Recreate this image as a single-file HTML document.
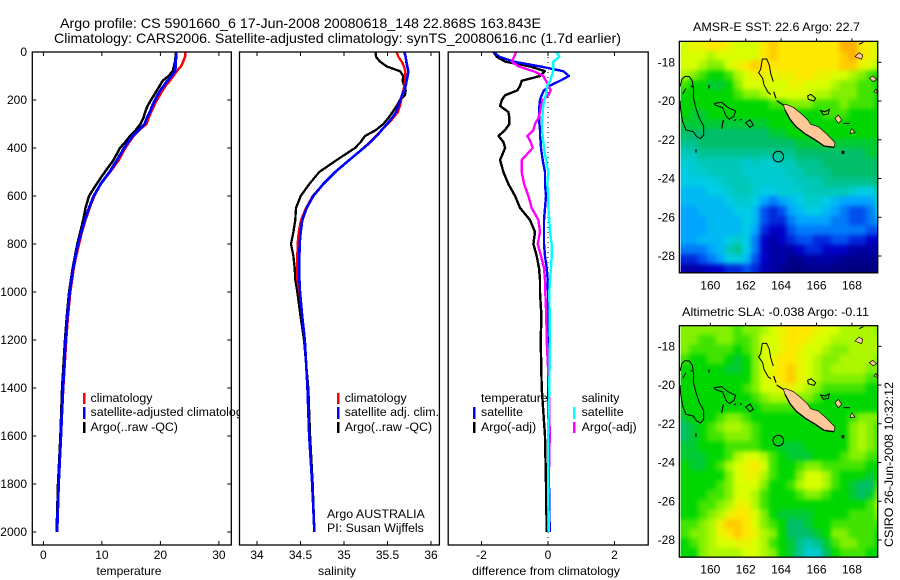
<!DOCTYPE html>
<html lang="en">
<head>
<meta charset="utf-8">
<title>Argo profile chart</title>
<style>
html,body{margin:0;padding:0;background:#fff;width:900px;height:580px;overflow:hidden}
svg{display:block}
text{font-family:"Liberation Sans",sans-serif;font-size:12px;fill:#000}
g.legend text{font-size:12.4px}
</style>
</head>
<body>
<svg id="chart" xmlns="http://www.w3.org/2000/svg" width="900" height="580" viewBox="0 0 900 580">
  <defs>
    <clipPath id="clip-map-top"><rect x="680.6" y="42" width="196.9" height="231"/></clipPath>
    <clipPath id="clip-map-bottom"><rect x="680.6" y="326.3" width="196.9" height="231"/></clipPath>
    <filter id="cell-soften" x="-10%" y="-10%" width="120%" height="120%" color-interpolation-filters="sRGB">
      <feGaussianBlur stdDeviation="2.4"/>
    </filter>
    <g id="coast">
      <g fill="none" stroke="#000" stroke-width="3">
        <path d="M60,230 L66,207 L75,199 L88,200 L97,213 L101,240 L100,262 L108,295 L118,325 L131,348 L131,375 L122,386 L110,380 L100,365 L78,360 L68,335 L62,300 L60,272"/>
        <path d="M68,252 L78,235 M92,228 L100,232"/>
        <path d="M163,280 L185,277 L205,293 L227,303 L222,318 L208,328 L198,318 L188,293 L165,285 Z"/>
        <path d="M257,338 L270,329 L280,345 L270,352 Z"/>
        <path d="M307,147 L320,147 L328,165 L332,190 L340,215"/>
        <path d="M307,147 L302,178 L296,188 L308,205 L312,225 L325,248 L333,253"/>
        <path d="M443,258 L453,253 L467,265 L462,273 L445,268 Z"/>
        <path d="M482,302 L495,305 L508,298 L505,312 L490,315 Z"/>
        <path d="M597,103 L610,97 M550,340 L570,340"/>
      </g>
      <g fill="none" stroke="#000" stroke-width="3.5">
        <path d="M341,245 L348,265 M185,356 L190,330 M222,332 L228,328 M240,330 L245,328 M147,225 L147,235 M108,417 L108,428 M350,272 L370,285"/>
        <path d="M545,427 L553,427" stroke-width="9"/>
      </g>
      <path d="M370,284 L378,283 L400,292 L420,308 L442,328 L452,343 L475,350 L500,372 L525,398 L522,412 L492,408 L466,390 L436,372 L408,350 L390,328 L375,300 Z" fill="#ffc896" stroke="#000" stroke-width="2"/>
      <path d="M375,300 L390,328 L408,350 L436,372 L466,390 L492,408 L522,412" fill="none" stroke="#000" stroke-width="4"/>
      <g fill="#ffc896" stroke="#000" stroke-width="2">
        <path d="M535,315 L545,330 L535,340 L525,325 Z"/>
        <path d="M597,128 L608,135 L605,148 L585,140 Z"/>
        <path d="M575,355 L585,368 L570,370 Z"/>
        <path d="M638,198 L650,208 L640,215 L628,205 Z"/>
        <path d="M648,237 L653,250 L642,245 Z"/>
      </g>
    </g>
  </defs>

  <g id="panel-temperature"></g>
  <g class="legend">
    <rect x="83" y="393" width="2.5" height="11" fill="#f00"/>
    <text x="90.5" y="402">climatology</text>
    <rect x="83" y="407" width="2.5" height="12" fill="#00f"/>
    <text x="90.5" y="416">satellite-adjusted climatology</text>
    <rect x="83" y="422" width="2.5" height="11" fill="#000"/>
    <text x="90.5" y="431">Argo(..raw -QC)</text>
  </g>

  <g id="panel-salinity"></g>
  <g class="legend">
    <rect x="337" y="393" width="2.5" height="11" fill="#f00"/>
    <text x="344.7" y="402">climatology</text>
    <rect x="337" y="407" width="2.5" height="12" fill="#00f"/>
    <text x="344.7" y="416">satellite adj. clim.</text>
    <rect x="337" y="422" width="2.5" height="11" fill="#000"/>
    <text x="344.7" y="431">Argo(..raw -QC)</text>
    <text x="327" y="518">Argo AUSTRALIA</text>
    <text x="327" y="532">PI: Susan Wijffels</text>
  </g>

  <g id="panel-difference"></g>
  <g class="legend">
    <text x="481" y="402">temperature</text>
    <rect x="473" y="407" width="2.5" height="12" fill="#00f"/>
    <text x="481" y="416">satellite</text>
    <rect x="473" y="422" width="2.5" height="11" fill="#000"/>
    <text x="481" y="431">Argo(-adj)</text>
    <text x="581.6" y="402">salinity</text>
    <rect x="573" y="407" width="2.5" height="12" fill="#0ff"/>
    <text x="581.6" y="416">satellite</text>
    <rect x="573" y="422" width="2.5" height="11" fill="#f0f"/>
    <text x="581.6" y="431">Argo(-adj)</text>
  </g>

  <text x="60" y="28" style="font-size:14px" textLength="481" lengthAdjust="spacingAndGlyphs">Argo profile: CS 5901660_6 17-Jun-2008 20080618_148 22.868S 163.843E</text>
  <text x="54" y="43" style="font-size:14px" textLength="567" lengthAdjust="spacingAndGlyphs">Climatology: CARS2006. Satellite-adjusted climatology: synTS_20080616.nc (1.7d earlier)</text>

  <g id="map-top"></g>
  <g id="map-bottom"></g>

  <text x="693" y="31" textLength="167" lengthAdjust="spacingAndGlyphs">AMSR-E SST: 22.6 Argo: 22.7</text>
  <text x="682" y="316" textLength="187" lengthAdjust="spacingAndGlyphs">Altimetric SLA: -0.038 Argo: -0.11</text>
  <text transform="translate(893,547) rotate(-90)" textLength="165" lengthAdjust="spacingAndGlyphs">CSIRO 26-Jun-2008 10:32:12</text>
</svg>

<script>
// ---- profile data ----
const depths = [0,20,40,60,80,100,120,140,160,180,200,225,250,275,300,325,350,375,400,450,500,550,600,650,700,750,800,850,900,950,1000,1100,1200,1400,1600,1800,2000];
const depthTicks = [0,200,400,600,800,1000,1200,1400,1600,1800,2000];

const tempClimatology = [24.3,24.2,23.9,23.5,22.8,22.2,21.6,20.9,20.4,19.9,19.4,18.9,18.4,18.0,17.6,16.4,15.4,14.7,14.0,12.9,11.4,9.8,8.7,7.9,7.2,6.6,6.1,5.6,5.2,4.9,4.6,4.2,3.9,3.4,3.0,2.6,2.35];
const tempSatellite = [22.7,22.7,22.6,22.6,22.5,21.9,21.2,20.6,20.0,19.5,19.1,18.6,18.2,17.7,17.3,16.3,15.3,14.5,13.8,12.6,11.3,9.8,8.6,7.8,7.1,6.5,5.9,5.5,5.1,4.8,4.5,4.1,3.8,3.35,3.0,2.6,2.35];
const tempArgo = [22.6,22.6,22.5,22.3,22.1,21.4,20.4,19.9,19.4,18.9,18.4,17.8,17.4,17.1,16.6,15.8,14.8,14.0,13.1,12.0,10.5,9.1,7.8,7.2,6.8,6.3,5.8,5.4,5.0,4.7,4.4,4.0,3.7,3.2,2.9,2.5,2.25];
const tempTicks = [0,10,20,30];

const salClimatology = [35.605,35.625,35.663,35.69,35.705,35.705,35.701,35.693,35.682,35.667,35.659,35.644,35.62,35.567,35.502,35.433,35.368,35.299,35.222,35.061,34.90,34.762,34.64,34.563,34.506,34.479,34.467,34.463,34.463,34.463,34.487,34.52,34.55,34.58,34.6,34.635,34.66];
const salSatellite = [35.693,35.709,35.716,35.728,35.739,35.732,35.72,35.709,35.693,35.667,35.648,35.625,35.598,35.552,35.494,35.433,35.375,35.306,35.226,35.061,34.90,34.762,34.647,34.571,34.521,34.502,34.49,34.487,34.487,34.487,34.494,34.52,34.55,34.58,34.6,34.635,34.66];
const salArgo = [35.364,35.368,35.414,35.49,35.644,35.682,35.674,35.69,35.709,35.701,35.644,35.605,35.559,35.51,35.452,35.368,35.241,35.192,35.126,34.916,34.716,34.601,34.502,34.448,34.44,34.418,34.391,34.418,34.433,34.44,34.463,34.5,34.54,34.59,34.61,34.64,34.66];
const salTicks = [34,34.5,35,35.5,36];

const diffTempSatellite = [-1.64,-1.46,-1.04,-0.24,0.46,0.63,0.36,0.06,-0.12,-0.19,-0.24,-0.26,-0.26,-0.26,-0.26,-0.24,-0.24,-0.22,-0.21,-0.16,-0.09,-0.09,-0.06,-0.09,-0.12,-0.12,-0.12,-0.09,-0.04,-0.01,0,0,0.02,0,0,0.03,0.05];
const diffTempArgo = [-1.64,-1.54,-1.29,-0.54,-0.09,-0.24,-0.79,-0.84,-0.92,-1.29,-1.39,-1.44,-1.19,-1.16,-1.16,-1.29,-1.49,-1.34,-1.29,-1.44,-1.34,-1.19,-0.99,-0.84,-0.54,-0.39,-0.44,-0.34,-0.27,-0.24,-0.24,-0.2,-0.22,-0.19,-0.09,-0.06,-0.04];
const diffSalSatellite = [0.26,0.34,0.16,0.16,0.16,0.11,0.06,-0.02,-0.04,-0.07,-0.11,-0.14,-0.16,-0.17,-0.18,-0.18,-0.16,-0.14,-0.12,-0.06,0.01,-0.02,0.01,0.01,0.04,0.06,0.11,0.11,0.09,0.06,0.04,0.05,0.06,0.04,0,0,0.03];
const diffSalArgo = [-0.96,-1.02,-1.09,-0.89,-0.44,-0.14,-0.06,0.01,0.08,0.01,-0.16,-0.21,-0.24,-0.29,-0.39,-0.44,-0.62,-0.52,-0.46,-0.79,-0.79,-0.72,-0.59,-0.49,-0.29,-0.24,-0.31,-0.21,-0.12,-0.09,-0.08,-0.05,-0.04,0.03,0.05,0.02,0];
const diffTicks = [-2,0,2];

// ---- map data (colour-scale level 0..11, 0.5 degree cells, north to south) ----
const sstValues = [
[9,9.5,9.5,10,10,9.5,9,9,9,10,10.5,10,10,10,10,10,10,10,11,11,10,9.5,9],
[9,9,9,8.5,9,9,9,9,9,10,10.5,10,10,10,10,10,10,10,10.5,11,10,9.5,9],
[9,9,8.5,8,8,9,9.5,10,10.5,10,10,10,10,10,10,10,10,10,10.5,10.5,9.5,9,8.5],
[8.5,8,7.5,7,7,7.5,8.5,9,9.5,9.5,9.5,9.5,9.5,10,10,9.5,9.5,9,9,8.5,8,7.5,7],
[7.5,7,7,6.5,6.5,7,8,9,9,9,9,9,9.5,9.5,9,9,9,8.5,8,8,7.5,7.5,7],
[7,7,7,7,7,7,7.5,8,8,8.5,9,9,9,9,9,8.5,8.5,8,8,8,7.5,7.5,7],
[7,7,7,7,7,7,7,7,7,7,7.5,7.5,8,8,8,7.5,7.5,7.5,8,7.5,7.5,7.5,7],
[7,6.5,6.5,7,7,7,7,7,7,7,7,7,7,7,7,7,7.5,7.5,7.5,7,7,7,7],
[6.5,6.5,6.5,6.5,6.5,6.5,6.5,6.5,6.5,6.5,7,7,7,7,7,7,7,7,7,7,7,7,7],
[6,6,6,6,6,6,6,6,6,6,6.5,6.5,7,7,7,7,7,7,7,7,7,7,7],
[5.5,5.5,6,6,6,6,6,6,6,6,6,6,6,6.5,6.5,6.5,6.5,6.5,6.5,6.5,6.5,6.5,6.5],
[5,5,5.5,5.5,5.5,5.5,5.5,5.5,5.5,5.5,5.5,5.5,5.5,6,6,6,6,6,6,6,6,6.5,6.5],
[4.5,4.5,5,5,5,5,5,4.5,5,4.5,4.5,5,5,5.5,5.5,5.5,6,6,6,6,6,6,6],
[4,4.5,4.5,5,5,5,5,4.5,4.5,4.5,4.5,4.5,5,5,5.5,5.5,5.5,6,6,6,6,6,6],
[4,4,4,4,4.5,5,5,5,4.5,4.5,4.5,4.5,4.5,5,5,5,5.5,5.5,5.5,5.5,5.5,5.5,6],
[3.5,3.5,3.5,4,4,4.5,5,5,4.5,4,4,4.5,4.5,4.5,5,5,5,5,5,4.5,4,4,5],
[3.5,3.5,3.5,3.5,3.5,4,4.5,4.5,4,3,2.5,3,3.5,4,4.5,4.5,4,3.5,3,3,3,3,4.5],
[3,3,3.5,3.5,3.5,3.5,4,4,3.5,2,1.5,2,3,3.5,4,4,3.5,3,2.5,2,2,2.5,4],
[3,3,3,3.5,3.5,3.5,3.5,4,3.5,2,1.5,1.5,2.5,3,3,3,3,2.5,2.5,2,2,2.5,3],
[3,3,3,3.5,3.5,3.5,3.5,4,3,1.5,1,1,2,2.5,2.5,2.5,2.5,2.5,2.5,2.5,2.5,2,2],
[3,3,3.5,3.5,3.5,4,4.5,4,2.5,1,0.5,1,1.5,2,2,1.5,1.5,2,2,1.5,1.5,1,1],
[2.5,2.5,2.5,3,3.5,5,5.5,4,2.5,1,0.5,0.5,0.5,1,1.5,1.5,1,1,1,0.5,0.5,0.5,0.5],
[1.5,1.5,2,2.5,3,4,4,3.5,2,1,0.5,0.5,0.2,0.2,0.5,0.5,0.5,0.5,0.2,0.2,0.2,0.2,0.2],
[0.5,0.5,0.7,1,1,1.5,1.5,2,1.5,0.7,0.5,0.2,0,0,0.2,0.2,0.2,0,0,0,0,0,0]
];
const slaValues = [
[8,8,8,8,8,8,7.5,8,8,8.5,9,9.5,10,10,10,9.5,9,9,8.5,8.5,8.5,8.5,8],
[8,8,7.5,7.5,8,8,7.5,7.5,8,9,9,9.5,10,10,9.5,9,9,8.5,8.5,8.5,8.5,8.5,8.5],
[8,7.5,7.5,7.5,7.5,7.5,7,7.5,8,9,9,9.5,10,9.5,9,9,8.5,8,8,8.5,8.5,8.5,8.5],
[7.5,7,7,7.5,7.5,7,6.5,7,8,9,9.5,10,10,9.5,9,8.5,8,8,8.5,8.5,8.5,8.5,8],
[7,7,7,7,7,6.5,6.5,7,8,9,9.5,10,10.5,9.5,9,8.5,8,8.5,8.5,8.5,8.5,8,8],
[7,7,7,7,7,7,7,7,8,9,9.5,10,10.5,9.5,9,8.5,8,8,8,8,8,7.5,7.5],
[7,7,7,7,7,7,7,7.5,8,9,9,9.5,9.5,9,8.5,8,7.5,7.5,7.5,7.5,7.5,7,7],
[7,7,7,7,7,7,7,7,7.5,8,8.5,8.5,8.5,8,8,7.5,7,7,7,7,7,7,7],
[7,7,7,7,7,7,7,7,7,7.5,7.5,7.5,7.5,7.5,7,7,7,7,7,7,7,7,7],
[6.5,7,7,7,7.5,8,8,7.5,7,7,7,7,7,7,7,7,7,7,7,7.5,8,8,8],
[6,6.5,7,7.5,8,8.5,8.5,8,7.5,7,7,7,7,7,7,7,7,7,7,8,8.5,8,7.5],
[6,6.5,7,7.5,7.5,8,8,8,7.5,7,7,7,7,7,7,7,7,7,7,8,8.5,8,7.5],
[6.5,6.5,7,7,7,7.5,7.5,7.5,7.5,7,7,6.5,6.5,6.5,7,7,7,7,7,8,8.5,8,7.5],
[6.5,6.5,6.5,7,7,7.5,8.5,9,9,8.5,7.5,7,6.5,6.5,6.5,7,7,7,7.5,8,8,7.5,7.5],
[7,6.5,6.5,7,7.5,8.5,9,9.5,10,9,7.5,7,7,7.5,8,8,7.5,7.5,7.5,7.5,7.5,7,7],
[7,7,7,7,7,8,9,9.5,9.5,8.5,7.5,7,7,8,9,9,8.5,7.5,7,7,7,6.5,7],
[7,7,7,7,7.5,8,9,9,9,8,7,7,7.5,8.5,9,9,8.5,7.5,7,6.5,6,6,7.5],
[7,7,7,7.5,7.5,8,9,9,8.5,7.5,7,7,7,7.5,8,8,7.5,7,7,6.5,6,6.5,8],
[7,7,7.5,7.5,8,8.5,9.5,9.5,8.5,7.5,7,7,7,7,7,7,7,7,7,7,7,7.5,8.5],
[7,7,7.5,8,8.5,9.5,10,10,9,8,7,6.5,6.5,6.5,6.5,7,7,7,7,7.5,7.5,7.5,8],
[7.5,7.5,8,8.5,9.5,10.5,10.5,10,9,8,7.5,7,6,6,6.5,7,7,7.5,7.5,7.5,7.5,7.5,7.5],
[7.5,8,8,8.5,9.5,10,10.5,10,9.5,8.5,8,7,6,6,6,6.5,7,8,8,7.5,7.5,7.5,7],
[7,7.5,8,8.5,9,9,9.5,9.5,9,8.5,7.5,7,6.5,5.5,5,5.5,6.5,7.5,8,8,7.5,7.5,7],
[7,7,8,8.5,8.5,8.5,8.5,9,9,8.5,8,7,6.5,5.5,4.5,4.5,6,7,7.5,7.5,7.5,7,7]
];
const lonTicks = [160,162,164,166,168];
const latTicks = [-18,-20,-22,-24,-26,-28];
const argoLon = 163.843;
const argoLat = -22.868;

// ---- helpers ----
const NS = 'http://www.w3.org/2000/svg';
function make(tag, attrs) {
  const el = document.createElementNS(NS, tag);
  for (const k in attrs) el.setAttribute(k, attrs[k]);
  return el;
}
const yDepth = d => 52 + d * 0.24;

function drawPanelFrame(parent, left, right, scale, ticks, xTitle, titleX, titleLen, sideTicks, yLabels) {
  const bg = make('rect', {x: left, y: 52, width: right - left, height: 493, fill: '#fff', stroke: 'none'});
  
  
  parent.appendChild(bg);

  ticks.forEach(t => {
    const x = scale(t);
    const top = make('line', {x1: x, x2: x, y1: 52, y2: 56, stroke: '#000'});
    
    
    parent.appendChild(top);
    const bot = make('line', {x1: x, x2: x, y1: 545, y2: 541, stroke: '#000'});
    
    
    parent.appendChild(bot);
    const lab = make('text', {x: x, y: 559, 'text-anchor': 'middle'});
    
    
    lab.textContent = String(t);
    parent.appendChild(lab);
  });

  if (sideTicks) {
    depthTicks.forEach(d => {
      const y = yDepth(d);
      const l = make('line', {x1: left, x2: left + 4, y1: y, y2: y, stroke: '#000'});
      
      
      parent.appendChild(l);
      const r = make('line', {x1: right, x2: right - 4, y1: y, y2: y, stroke: '#000'});
      
      
      parent.appendChild(r);
      if (yLabels) {
        const lab = make('text', {x: 27, y: y + 4, 'text-anchor': 'end'});
        
        
        lab.textContent = String(d);
        parent.appendChild(lab);
      }
    });
  }

  const title = make('text', {x: titleX, y: 575, 'text-anchor': 'middle', textLength: titleLen, lengthAdjust: 'spacingAndGlyphs'});
  
  
  title.textContent = xTitle;
  parent.appendChild(title);
}

function drawFrameBorder(parent, left, right) {
  const box = make('rect', {x: left, y: 52, width: right - left, height: 493, fill: 'none', stroke: '#000', 'stroke-width': 1.3});
  
  
  parent.appendChild(box);
}

function drawProfile(parent, values, scale, color, width, name) {
  const pts = values.map((v, i) => scale(v).toFixed(1) + ',' + yDepth(depths[i]).toFixed(1)).join(' ');
  const line = make('polyline', {points: pts, fill: 'none', stroke: color, 'stroke-width': width, 'shape-rendering': 'crispEdges', 'stroke-linejoin': 'round'});
  
  
  parent.appendChild(line);
}

// ---- profile panels ----
const xTemp = v => 43.4 + 5.85 * v;
const xSal = v => 257 + 87 * (v - 34);
const xDiff = v => 548 + 33.25 * v;

const p1 = document.getElementById('panel-temperature');
drawPanelFrame(p1, 32.3, 231.3, xTemp, tempTicks, 'temperature', 129, 65, true, true);
drawProfile(p1, tempClimatology, xTemp, '#f00', 2.5, 'temperature-climatology-line');
drawProfile(p1, tempArgo, xTemp, '#000', 2.5, 'temperature-argo-line');
drawProfile(p1, tempSatellite, xTemp, '#00f', 2.8, 'temperature-satellite-line');
drawFrameBorder(p1, 32.3, 231.3);

const p2 = document.getElementById('panel-salinity');
drawPanelFrame(p2, 239.5, 439.4, xSal, salTicks, 'salinity', 337, 38, false, false);
drawProfile(p2, salArgo, xSal, '#000', 2.3, 'salinity-argo-line');
drawProfile(p2, salClimatology, xSal, '#f00', 2.3, 'salinity-climatology-line');
drawProfile(p2, salSatellite, xSal, '#00f', 2.6, 'salinity-satellite-line');
drawFrameBorder(p2, 239.5, 439.4);

const p3 = document.getElementById('panel-difference');
drawPanelFrame(p3, 448.2, 648.2, xDiff, diffTicks, 'difference from climatology', 546, 148, false, false);
const zero = make('line', {x1: xDiff(0), x2: xDiff(0), y1: 52, y2: 545, stroke: '#000', 'stroke-dasharray': '1 4'});


p3.appendChild(zero);
drawProfile(p3, diffTempArgo, xDiff, '#000', 2.4, 'difference-temperature-argo-line');
drawProfile(p3, diffTempSatellite, xDiff, '#00f', 2.4, 'difference-temperature-satellite-line');
drawProfile(p3, diffSalArgo, xDiff, '#f0f', 2.4, 'difference-salinity-argo-line');
drawProfile(p3, diffSalSatellite, xDiff, '#0ff', 2.4, 'difference-salinity-satellite-line');
drawFrameBorder(p3, 448.2, 648.2);

// ---- maps ----
const colorStops = [[0,0,127],[0,0,200],[0,80,240],[0,165,255],[0,205,230],[0,200,185],[0,190,105],[0,215,0],[130,240,0],[215,255,0],[255,232,0],[255,175,0]];
function levelColor(v) {
  const c = Math.max(0, Math.min(colorStops.length - 1, v));
  const i = Math.min(colorStops.length - 2, Math.floor(c));
  const f = c - i;
  const mix = colorStops[i].map((s, k) => Math.round(s + (colorStops[i + 1][k] - s) * f));
  return 'rgb(' + mix.join(',') + ')';
}

function drawMap(parent, grid, top, clipId, cellName, y18) {
  const xLon = lon => 710.3 + (lon - 160) * 17.7;
  const yLat = lat => y18 + (-18 - lat) * 19.37;
  const clip = make('g', {'clip-path': 'url(#' + clipId + ')'});
  
  
  parent.appendChild(clip);
  const cells = make('g', {filter: 'url(#cell-soften)'});
  
  
  clip.appendChild(cells);
  const pad = 14;
  grid.forEach((row, r) => {
    row.forEach((v, c) => {
      const lon = 158.3 + c * 0.5;
      const lat = -16.92 - r * 0.5;
      // edge cells bleed outward so the softening does not fade at the clipped map edge
      const padL = c === 0 ? pad : 0;
      const padR = c === row.length - 1 ? pad : 0;
      const padT = r === 0 ? pad : 0;
      const padB = r === grid.length - 1 ? pad : 0;
      const cell = make('rect', {x: (xLon(lon) - padL).toFixed(2), y: (yLat(lat) - padT).toFixed(2), width: 9.3 + padL + padR, height: 10.1 + padT + padB, fill: levelColor(v)});
      
      
      cells.appendChild(cell);
    });
  });

  const coast = make('use', {href: '#coast', transform: 'translate(679.33,' + top + ') scale(0.33333) translate(-58,-94)'});
  
  
  parent.appendChild(coast);

  const marker = make('circle', {cx: xLon(argoLon).toFixed(1), cy: yLat(argoLat).toFixed(1), r: 5.3, fill: 'none', stroke: '#000', 'stroke-width': 1});
  
  
  parent.appendChild(marker);

  const border = make('rect', {x: 679.33, y: top, width: 198.4, height: 231.5, fill: 'none', stroke: '#000', 'stroke-width': 1.3});
  
  
  parent.appendChild(border);

  lonTicks.forEach(t => {
    const x = xLon(t);
    const tick = make('line', {x1: x, x2: x, y1: top, y2: top - 3, stroke: '#000'});
    
    
    parent.appendChild(tick);
    const lab = make('text', {x: x, y: top + 248, 'text-anchor': 'middle'});
    
    
    lab.textContent = String(t);
    parent.appendChild(lab);
  });
  latTicks.forEach(t => {
    const y = yLat(t);
    const tick = make('line', {x1: 877.7, x2: 881.5, y1: y, y2: y, stroke: '#000'});
    
    
    parent.appendChild(tick);
    const lab = make('text', {x: 675, y: y + 4, 'text-anchor': 'end'});
    
    
    lab.textContent = String(t);
    parent.appendChild(lab);
  });
}

drawMap(document.getElementById('map-top'), sstValues, 41.33, 'clip-map-top', 'sst-cell', 62.3);
drawMap(document.getElementById('map-bottom'), slaValues, 325.67, 'clip-map-bottom', 'sla-cell', 346.3);
</script>
</body>
</html>
